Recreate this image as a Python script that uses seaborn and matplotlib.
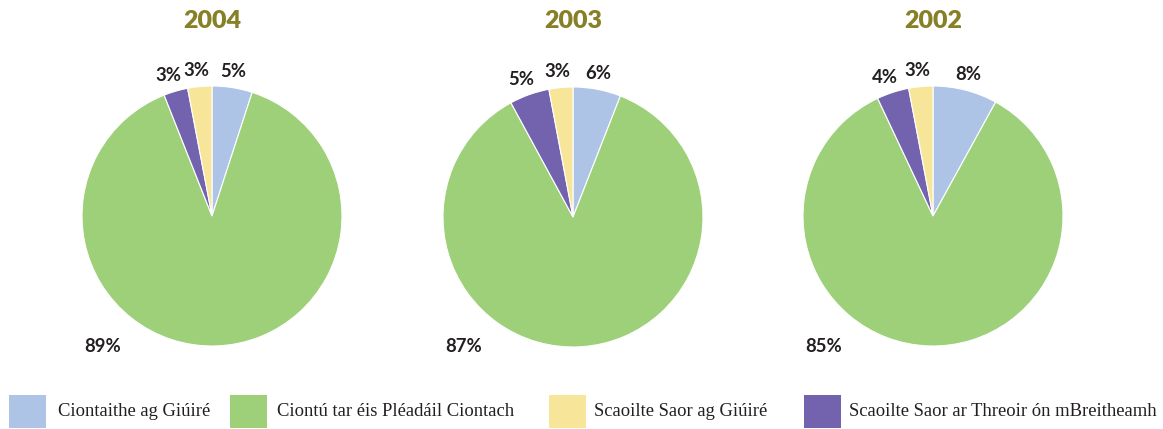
import numpy as np
import matplotlib
matplotlib.use("Agg")
import matplotlib.pyplot as plt
import seaborn as sns
from matplotlib.patches import Rectangle
from matplotlib import font_manager

years = ["2004", "2003", "2002"]
categories = ["Ciontaithe ag Giúiré", "Ciontú tar éis Pléadáil Ciontach",
              "Scaoilte Saor ar Threoir ón mBreitheamh", "Scaoilte Saor ag Giúiré"]
vals_2004 = [5, 89, 3, 3]
vals_2003 = [6, 87, 5, 3]
vals_2002 = [8, 85, 4, 3]
legend_order = [0, 1, 3, 2]

sns.set_theme(style="white")

# pick a sans family that really has a bold face installed
bold_family = "DejaVu Sans"
for fam in ["Lato", "Roboto", "Inter", "Liberation Sans"]:
    try:
        fp = font_manager.findfont(font_manager.FontProperties(family=fam, weight="bold"),
                                   fallback_to_default=False)
        f = font_manager.get_font(fp)
        if "bold" in f.style_name.lower() or f.style_flags & 2:
            bold_family = fam
            break
    except Exception:
        pass
plt.rcParams['font.family'] = [bold_family, 'DejaVu Sans']

colors = sns.color_palette(["#aec4e6", "#9ed07a", "#7362ae", "#f7e59a"])

W, H = 1163, 429
fig = plt.figure(figsize=(W / 100, H / 100), dpi=100)
fig.patch.set_facecolor("white")

centers = [(212, 216), (573, 217), (933, 216)]
R = 130
all_vals = [vals_2004, vals_2003, vals_2002]
for (cx, cy), yr, vals in zip(centers, years, all_vals):
    ax = fig.add_axes([(cx - R) / W, (H - cy - R) / H, 2 * R / W, 2 * R / H])
    ax.pie(vals, colors=colors, startangle=90, counterclock=False, radius=1.0,
           wedgeprops=dict(edgecolor="white", linewidth=0.8))
    ax.set_xlim(-1, 1)
    ax.set_ylim(-1, 1)
    ax.set_aspect("equal")
    ax.axis("off")
    total = sum(vals)
    start = 90.0
    for i, v in enumerate(vals):
        ang = start - v / total * 180.0
        start -= v / total * 360.0
        if i == 1:
            ax.text(-0.84, -1.0, f"{v}%", ha="center", va="center", fontsize=13.3,
                    fontweight="bold", color="#231f20", clip_on=False)
        else:
            d = 1.14
            ax.text(d * np.cos(np.radians(ang)) - 0.015, d * np.sin(np.radians(ang)) - 0.015,
                    f"{v}%", ha="center", va="center", fontsize=13.3, fontweight="bold",
                    color="#231f20", clip_on=False)
    fig.text(cx / W, 1 - 21 / H, yr, ha="center", va="center", fontsize=18,
             fontweight="heavy", color="#878027")

# legend drawn in pixel coordinates
lax = fig.add_axes([0, 0, 1, 1], zorder=-1)
lax.set_xlim(0, W)
lax.set_ylim(H, 0)
lax.axis("off")
sq_x = [9, 230, 549, 804]
txt_x = [58, 277, 594, 849]
for k, idx in enumerate(legend_order):
    lax.add_patch(Rectangle((sq_x[k], 395), 37, 33, facecolor=colors[idx], edgecolor="none"))
    lax.text(txt_x[k], 412, categories[idx], ha="left", va="center",
             fontsize=13.4, family="Liberation Serif", color="#231f20")

fig.savefig("out.png", dpi=100, facecolor="white")
